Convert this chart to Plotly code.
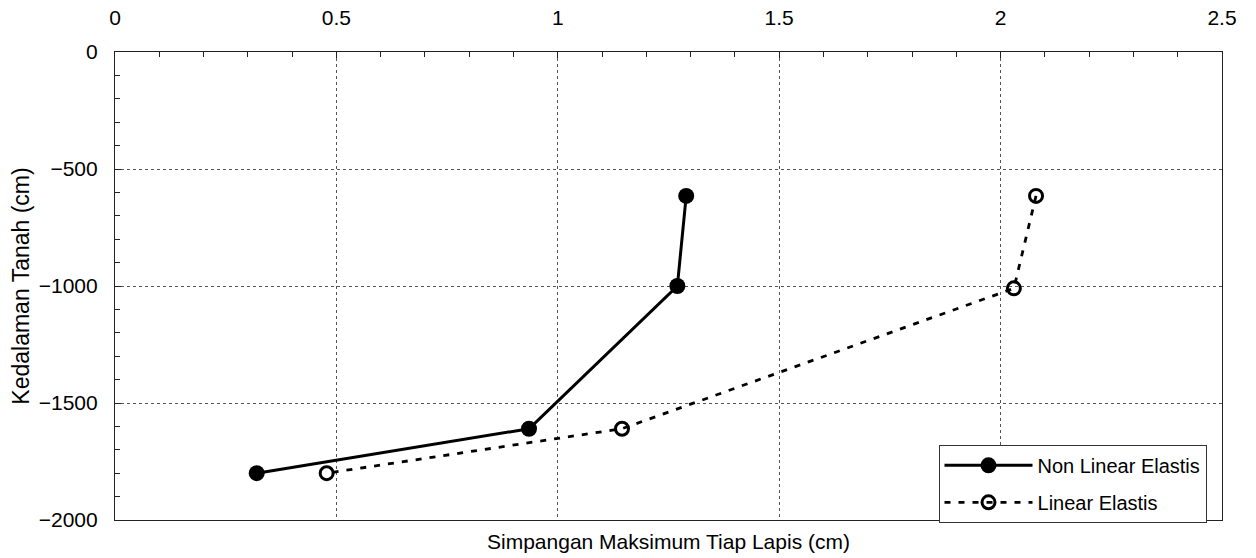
import plotly.graph_objects as go

# Data
depth_nl = [-615, -1000, -1610, -1800]
disp_nl = [1.29, 1.27, 0.935, 0.32]
depth_l = [-615, -1010, -1610, -1800]
disp_l = [2.08, 2.03, 1.145, 0.478]

x_ticks = [0, 0.5, 1, 1.5, 2, 2.5]
x_tick_labels = ["0", "0.5", "1", "1.5", "2", "2.5"]
y_ticks = [0, -500, -1000, -1500, -2000]

FONT = "Liberation Sans, Arial, sans-serif"

fig = go.Figure()
fig.add_trace(go.Scatter(
    x=disp_nl, y=depth_nl, mode="lines+markers", name="Non Linear Elastis",
    legendgroup="nl",
    line=dict(color="black", width=3),
    marker=dict(symbol="circle", size=16, color="black"),
))
fig.add_trace(go.Scatter(
    x=disp_l, y=depth_l, mode="lines+markers", name="Linear Elastis",
    legendgroup="l",
    line=dict(color="black", width=2.8, dash="6px,8px"),
    marker=dict(symbol="circle-open", size=13, color="black", line=dict(width=3)),
))

fig.update_layout(
    width=1256, height=558,
    margin=dict(l=115, r=34, t=52, b=38),
    paper_bgcolor="white", plot_bgcolor="white",
    font=dict(family=FONT, size=20, color="black"),
    showlegend=True,
    legend=dict(
        x=0.986, xanchor="right", y=-0.006, yanchor="bottom",
        bgcolor="white", bordercolor="#333333", borderwidth=1,
        font=dict(family=FONT, size=20, color="black"),
        itemwidth=88, tracegroupgap=8,
    ),
)
fig.update_xaxes(
    side="top", range=[0, 2.5], tickvals=x_ticks, ticktext=x_tick_labels,
    automargin=False,
    showline=True, linecolor="#222222", linewidth=1.2, mirror=True,
    showgrid=True, gridcolor="#555555", griddash="3px,3px", gridwidth=1,
    ticks="inside", ticklen=6, tickcolor="#222222", ticklabelstandoff=18,
    minor=dict(dtick=0.1, ticks="inside", ticklen=5, tickcolor="#222222", showgrid=False),
    tickfont=dict(family=FONT, size=21, color="black"),
    zeroline=False,
)
fig.update_yaxes(
    range=[-2000, 0], tickvals=y_ticks,
    automargin=False,
    showline=True, linecolor="#222222", linewidth=1.2, mirror=True,
    showgrid=True, gridcolor="#555555", griddash="3px,3px", gridwidth=1,
    ticks="inside", ticklen=6, tickcolor="#222222", ticklabelstandoff=12,
    minor=dict(dtick=100, ticks="inside", ticklen=5, tickcolor="#222222", showgrid=False),
    tickfont=dict(family=FONT, size=21, color="black"),
    title=dict(text="Kedalaman Tanah (cm)", font=dict(family=FONT, size=23, color="black"), standoff=2),
    zeroline=False,
)
fig.add_annotation(
    text="Simpangan Maksimum Tiap Lapis (cm)", xref="paper", yref="paper",
    x=0.5, y=0, yshift=-8, yanchor="top", showarrow=False,
    font=dict(family=FONT, size=21, color="black"),
)

fig.write_html(
    "out.html",
    config={"displayModeBar": False},
    post_script="document.body.style.margin='0';document.body.style.overflow='hidden';",
)
